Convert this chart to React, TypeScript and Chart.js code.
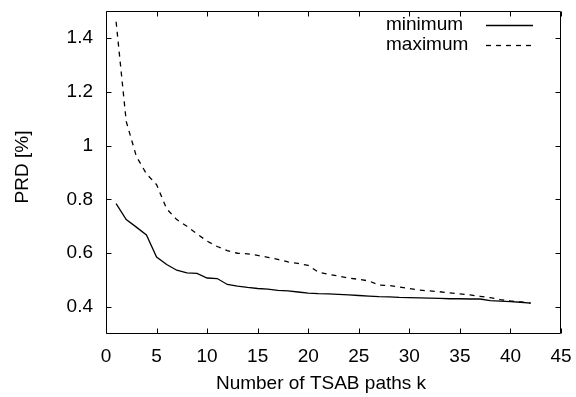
import { useEffect, useRef } from "react";
import { Chart, registerables } from "chart.js";

Chart.register(...registerables);

const kValues = [
  1, 2, 3, 4, 5, 6, 7, 8, 9, 10, 11, 12, 13, 14, 15, 16, 17, 18, 19, 20, 21,
  22, 23, 24, 25, 26, 27, 28, 29, 30, 31, 32, 33, 34, 35, 36, 37, 38, 39, 40,
  41, 42,
];
const minimumPRD = [
  0.784, 0.725, 0.697, 0.668, 0.586, 0.558, 0.537, 0.527, 0.525, 0.508, 0.506,
  0.484, 0.478, 0.473, 0.469, 0.467, 0.462, 0.46, 0.456, 0.452, 0.45, 0.449,
  0.447, 0.445, 0.443, 0.441, 0.439, 0.438, 0.436, 0.435, 0.434, 0.433, 0.432,
  0.431, 0.431, 0.43, 0.43, 0.424, 0.422, 0.42, 0.418, 0.415,
];
const maximumPRD = [
  1.46, 1.09, 0.96, 0.895, 0.855, 0.765, 0.725, 0.7, 0.672, 0.645, 0.625, 0.61,
  0.6, 0.598, 0.592, 0.585, 0.577, 0.568, 0.562, 0.555, 0.53, 0.522, 0.515,
  0.508, 0.503, 0.497, 0.482, 0.48, 0.475, 0.469, 0.463, 0.46, 0.457, 0.453,
  0.449, 0.445, 0.44, 0.435, 0.428, 0.423, 0.419, 0.415,
];
const seriesLabels = ["minimum", "maximum"];
const xTicks = [0, 5, 10, 15, 20, 25, 30, 35, 40, 45];
const yTicks = [0.4, 0.6, 0.8, 1, 1.2, 1.4];
const xTitle = "Number of TSAB paths k";
const yTitle = "PRD [%]";

const FONT_FAMILY = '"Liberation Sans", Arial, Helvetica, sans-serif';
const FONT_SIZE = 19;

const framePlugin = {
  id: "gnuplotFrame",
  afterDatasetsDraw(chart: any) {
    const { ctx, chartArea, scales } = chart;
    const { left, right, top, bottom } = chartArea;
    const xs = scales.x;
    const ys = scales.y;
    const L = Math.round(left) + 0.5;
    const R = Math.round(right) - 0.5;
    const T = Math.round(top) + 0.5;
    const B = Math.round(bottom) - 0.5;
    const tl = 5;
    ctx.save();
    ctx.strokeStyle = "#000";
    ctx.lineWidth = 1;
    ctx.setLineDash([]);
    ctx.beginPath();
    ctx.rect(L, T, R - L, B - T);
    ctx.stroke();
    ctx.beginPath();
    xTicks.forEach((v) => {
      const px = Math.round(xs.getPixelForValue(v)) + 0.5;
      ctx.moveTo(px, B);
      ctx.lineTo(px, B - tl);
      ctx.moveTo(px, T);
      ctx.lineTo(px, T + tl);
    });
    yTicks.forEach((v) => {
      const py = Math.round(ys.getPixelForValue(v)) + 0.5;
      ctx.moveTo(L, py);
      ctx.lineTo(L + tl, py);
      ctx.moveTo(R, py);
      ctx.lineTo(R - tl, py);
    });
    ctx.stroke();

    // axis titles
    ctx.fillStyle = "#000";
    ctx.font = `${FONT_SIZE}px ${FONT_FAMILY}`;
    ctx.textAlign = "center";
    ctx.textBaseline = "middle";
    ctx.fillText(xTitle, 321, 384);
    ctx.save();
    ctx.translate(23, 167);
    ctx.rotate(-Math.PI / 2);
    ctx.fillText(yTitle, 0, 0);
    ctx.restore();

    // legend (gnuplot style: text then sample)
    chart.data.datasets.forEach((ds: any, i: number) => {
      const cy = 25 + i * 20;
      ctx.textAlign = "left";
      ctx.textBaseline = "alphabetic";
      ctx.fillStyle = "#000";
      ctx.fillText(ds.label, 386, cy + 5);
      ctx.beginPath();
      ctx.strokeStyle = ds.borderColor;
      ctx.lineWidth = ds.borderWidth;
      ctx.setLineDash(ds.borderDash || []);
      ctx.moveTo(486, cy + 0.5);
      ctx.lineTo(533, cy + 0.5);
      ctx.stroke();
    });
    ctx.restore();
  },
};

export default function App() {
  const canvasRef = useRef<HTMLCanvasElement | null>(null);

  useEffect(() => {
    document.body.style.margin = "0";
    const canvas = canvasRef.current;
    if (!canvas) return;
    const chart = new Chart(canvas, {
      type: "line",
      data: {
        datasets: [
          {
            label: seriesLabels[0],
            data: kValues.map((k, i) => ({ x: k, y: minimumPRD[i] })),
            borderColor: "#000",
            borderWidth: 1.3,
            pointRadius: 0,
            tension: 0,
            fill: false,
          },
          {
            label: seriesLabels[1],
            data: kValues.map((k, i) => ({ x: k, y: maximumPRD[i] })),
            borderColor: "#000",
            borderWidth: 1.3,
            borderDash: [5, 5],
            pointRadius: 0,
            tension: 0,
            fill: false,
          },
        ],
      },
      options: {
        animation: false,
        responsive: false,
        devicePixelRatio: 1,
        layout: { padding: { top: 11, right: 15, left: 0, bottom: 0 } },
        plugins: {
          legend: { display: false },
          tooltip: { enabled: false },
        },
        scales: {
          x: {
            type: "linear",
            min: 0,
            max: 45,
            grid: { display: false, drawTicks: false },
            border: { display: false },
            afterBuildTicks: (scale: any) => {
              scale.ticks = xTicks.map((v) => ({ value: v }));
            },
            afterFit: (scale: any) => {
              scale.height = 63;
              scale.paddingLeft = 0;
              scale.paddingRight = 0;
            },
            ticks: {
              color: "#000",
              padding: 11,
              maxRotation: 0,
              autoSkip: false,
              font: { family: FONT_FAMILY, size: FONT_SIZE },
              callback: (v: any) => String(v),
            },
          },
          y: {
            type: "linear",
            min: 0.3,
            max: 1.5,
            grid: { display: false, drawTicks: false },
            border: { display: false },
            afterBuildTicks: (scale: any) => {
              scale.ticks = yTicks.map((v) => ({ value: v }));
            },
            afterFit: (scale: any) => {
              scale.width = 106;
              scale.paddingTop = 0;
              scale.paddingBottom = 0;
            },
            ticks: {
              color: "#000",
              padding: 13,
              autoSkip: false,
              font: { family: FONT_FAMILY, size: FONT_SIZE },
              callback: (v: any) => String(Math.round(v * 10) / 10),
            },
          },
        },
      },
      plugins: [framePlugin],
    });
    return () => chart.destroy();
  }, []);

  return (
    <div style={{ width: 576, height: 397 }}>
      <canvas ref={canvasRef} width={576} height={397} style={{ display: "block" }} />
    </div>
  );
}
